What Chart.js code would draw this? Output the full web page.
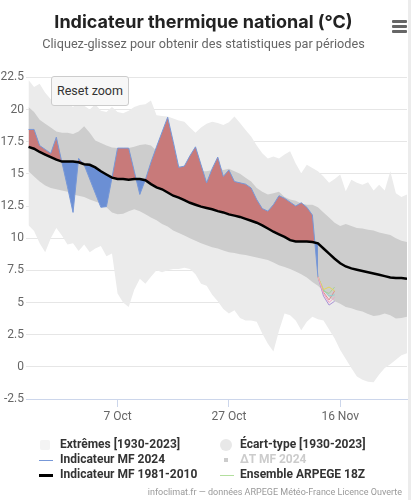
<!DOCTYPE html>
<html>
<head>
<meta charset="utf-8">
<script src="https://cdn.jsdelivr.net/npm/chart.js@4"></script>
<style>
  html, body { margin: 0; padding: 0; background: #fff; }
  #wrap { position: relative; width: 411px; height: 500px; overflow: hidden; font-family: Roboto, sans-serif; }
  #wrap canvas { position: absolute; left: 0; top: 0; }
  .edge { position: absolute; left: 408px; top: 0; width: 3px; height: 500px; background: #ececec; }
  .menu { position: absolute; left: 392px; top: 20px; width: 15px; }
  .menu span { display: block; height: 3px; background: #666; margin-bottom: 2px; border-radius: 1px; }
  .reset { position: absolute; left: 51px; top: 76px; width: 78px; height: 30px; box-sizing: border-box;
    background: #f7f7f7; border: 1px solid #ccc; border-radius: 3px; font: 12.5px Roboto; color: #333;
    line-height: 28px; text-align: center; }
  .item { position: absolute; height: 15px; line-height: 15px; white-space: nowrap; font: bold 12px Roboto; color: #333; }
  .sym { position: absolute; }
  .credits { position: absolute; right: 9px; top: 487px; font: 9px Roboto; color: #999; white-space: nowrap; }
</style>
</head>
<body>
<div id="wrap">
  <canvas id="c" width="411" height="500"></canvas>
  <div class="edge"></div>
  <div class="menu"><span></span><span></span><span></span></div>
  <div class="reset">Reset zoom</div>

  <div class="sym" style="left:40px;top:440px;width:10px;height:10px;background:#f4f4f4;border-radius:2px"></div>
  <div class="item" style="left:60px;top:437px">Extrêmes [1930-2023]</div>
  <div class="sym" style="left:39px;top:460px;width:14px;height:1px;background:#7798d8"></div>
  <div class="item" style="left:60px;top:452px">Indicateur MF 2024</div>
  <div class="sym" style="left:39px;top:474px;width:14px;height:3px;background:#000"></div>
  <div class="item" style="left:60px;top:467px">Indicateur MF 1981-2010</div>

  <div class="sym" style="left:220px;top:439px;width:12px;height:12px;background:#e8e8e8;border-radius:50%"></div>
  <div class="item" style="left:240px;top:437px">Écart-type [1930-2023]</div>
  <div class="sym" style="left:224px;top:458px;width:4px;height:4px;background:#ccc"></div>
  <div class="item" style="left:240px;top:452px;color:#ccc">ΔT MF 2024</div>
  <div class="sym" style="left:220px;top:475px;width:14px;height:1px;background:#b3df9e"></div>
  <div class="item" style="left:240px;top:467px">Ensemble ARPEGE 18Z</div>

  <div class="credits">infoclimat.fr — données ARPEGE Météo-France Licence Ouverte</div>
</div>
<script>
// one value per day, 21 Sep -> 28 Nov 2024
const extMax = [22.3, 21.75, 22.0, 21.3, 20.8, 20.6, 20.9, 20.5, 20.2, 20.6,
  20.3, 20.0, 20.4, 19.9, 19.8, 20.2, 19.8, 19.7, 19.9, 20.2,
  20.35, 20.4, 20.7, 19.55, 19.5, 19.45, 19.3, 19.15, 19.05, 18.6,
  18.2, 18.6, 18.9, 19.05, 18.95, 18.8, 19.0, 19.45, 18.95, 18.4,
  17.9, 17.2, 16.6, 16.2, 16.35, 16.2, 16.5, 16.75, 15.8, 15.05,
  15.7, 15.45, 15.2, 14.8, 14.3, 14.6, 14.95, 13.65, 14.55, 14.3,
  14.15, 14.35, 13.7, 14.15, 13.7, 15.2, 13.5, 13.2, 13.4];
const extMin = [11.0, 10.55, 9.6, 8.9, 10.0, 10.8, 10.2, 9.5, 9.6, 9.0,
  9.5, 8.9, 9.2, 9.4, 8.6, 8.8, 5.7, 5.0, 4.65, 6.0,
  6.85, 6.45, 7.0, 7.5, 7.35, 7.5, 7.6, 7.6, 7.7, 7.6,
  7.2, 6.45, 6.3, 5.6, 5.1, 4.5, 4.15, 4.4, 3.8, 3.6,
  3.6, 3.5, 2.6, 1.8, 1.2, 2.8, 4.15, 4.0, 3.6, 2.85,
  3.5, 3.9, 3.7, 3.6, 2.9, 2.2, 1.3, 0.6, -0.1, -0.75,
  -1.0, -1.15, -1.2, -0.6, -0.1, 0.2, 0.55, 0.9, 1.05];
const stdMax = [20.2, 19.8, 19.2, 18.9, 18.6, 18.3, 18.2, 18.2, 18.1, 18.3,
  18.7, 18.2, 17.6, 17.4, 17.2, 17.05, 17.0, 17.0, 17.0, 17.1,
  17.25, 17.3, 17.2, 16.8, 16.4, 16.2, 15.9, 15.6, 15.5, 15.4,
  15.3, 15.2, 15.2, 15.3, 15.4, 15.3, 15.4, 15.2, 15.0, 14.7,
  14.4, 13.9, 13.6, 13.4, 13.5, 13.6, 13.2, 13.0, 12.9, 12.7,
  12.6, 12.6, 12.4, 12.0, 11.6, 11.2, 10.95, 11.1, 10.95, 10.8,
  10.75, 10.65, 10.6, 10.45, 10.35, 10.25, 10.0, 9.8, 9.7];
const stdMin = [15.2, 14.8, 14.4, 14.1, 13.9, 13.8, 13.7, 13.6, 13.4, 13.3,
  13.2, 13.0, 12.85, 12.7, 12.4, 12.0, 11.85, 11.9, 12.1, 12.25,
  12.1, 11.85, 11.6, 11.4, 11.1, 10.9, 10.6, 10.4, 10.2, 10.0,
  9.8, 9.6, 9.45, 9.3, 9.2, 9.05, 8.9, 8.85, 8.75, 8.7,
  8.6, 8.5, 8.4, 8.3, 8.1, 7.9, 7.75, 7.6, 7.4, 7.2,
  6.95, 6.6, 6.3, 5.9, 5.4, 5.1, 4.9, 4.65, 4.55, 4.4,
  4.3, 4.1, 3.95, 4.0, 4.15, 4.0, 3.75, 3.8, 3.9];
const normal = [17.1, 16.95, 16.7, 16.5, 16.3, 16.1, 15.95, 15.95, 15.95, 15.9,
  15.75, 15.7, 15.5, 15.2, 14.95, 14.7, 14.6, 14.6, 14.55, 14.6,
  14.6, 14.5, 14.2, 13.95, 13.8, 13.55, 13.3, 13.15, 12.95, 12.75,
  12.6, 12.45, 12.35, 12.25, 12.1, 12.0, 11.85, 11.75, 11.65, 11.5,
  11.35, 11.2, 11.0, 10.75, 10.5, 10.3, 10.1, 9.85, 9.75, 9.75,
  9.75, 9.7, 9.6, 9.2, 8.8, 8.4, 8.05, 7.8, 7.65, 7.55,
  7.45, 7.35, 7.25, 7.15, 7.05, 6.95, 6.9, 6.9, 6.85];
const mf2024 = [18.45, 18.45, 17.2, 16.9, 16.6, 17.85, 15.9, 14.0, 12.0, 16.2,
  15.7, 14.6, 13.5, 12.4, 12.45, 14.7, 17.0, 17.0, 17.0, 15.2,
  13.4, 14.55, 15.9, 17.1, 18.25, 19.4, 17.5, 15.5, 15.6, 16.4,
  17.1, 15.7, 14.3, 15.4, 16.3, 14.8, 15.3, 14.4, 14.3, 14.2,
  13.9, 13.0, 12.3, 12.1, 12.6, 13.3, 13.1, 12.8, 12.5, 12.75,
  12.4, 11.8, 7.0];
// ARPEGE members, from 13 Nov (day 52)
const ensStart = 52;
const ensemble = [
  [7.0, 5.7, 5.0, 5.4],
  [7.0, 6.0, 6.2, 5.9],
  [7.0, 5.9, 5.7, 6.2],
  [7.0, 5.5, 4.8, 5.1],
  [7.0, 6.0, 5.5, 5.6],
  [7.0, 5.8, 5.2, 5.9]
];
const ensColors = ['#f5a3c6', '#e3d65a', '#a6d494', '#a993d6', '#8fd0d0', '#e08c8c'];
const tickDays = [16, 36, 56];
const tickLabels = ['7 Oct', '27 Oct', '16 Nov'];

const pts = (arr, start = 0) => arr.map((v, i) => ({ x: start + i, y: v }));

const datasets = [
  { data: pts(mf2024), borderColor: '#7798d8', borderWidth: 1, order: 2,
    fill: { target: 1, above: '#c87a7a', below: '#6b8fd4' } },
  { data: pts(normal), borderColor: '#000', borderWidth: 2.5, order: 1, fill: false },
  { data: pts(stdMax), borderWidth: 0, backgroundColor: '#cdcdcd', fill: '+1', order: 4 },
  { data: pts(stdMin), borderWidth: 0, fill: false, order: 4 },
  { data: pts(extMax), borderWidth: 0, backgroundColor: '#ebebeb', fill: '+1', order: 5 },
  { data: pts(extMin), borderWidth: 0, fill: false, order: 5 }
];
ensemble.forEach((m, k) => {
  datasets.push({ data: pts(m, ensStart), borderColor: ensColors[k], borderWidth: 1, fill: false, order: 3 });
});

Chart.defaults.font.family = 'Roboto';

new Chart(document.getElementById('c'), {
  type: 'line',
  data: { datasets },
  options: {
    responsive: false,
    animation: false,
    layout: { padding: { left: 0, right: 4, top: 0, bottom: 71 } },
    elements: { point: { radius: 0 }, line: { tension: 0 } },
    plugins: {
      legend: { display: false },
      tooltip: { enabled: false },
      title: {
        display: true,
        text: 'Indicateur thermique national (°C)',
        font: { family: 'Inter', size: 18, weight: 'bold' },
        color: '#222',
        padding: { top: 12, bottom: 0 }
      },
      subtitle: {
        display: true,
        text: 'Cliquez-glissez pour obtenir des statistiques par périodes',
        font: { family: 'Roboto', size: 12.7 },
        color: '#666',
        padding: { top: 4, bottom: 24.5 }
      }
    },
    scales: {
      x: {
        type: 'linear',
        min: -0.45,
        max: 68,
        afterBuildTicks: s => { s.ticks = tickDays.map(v => ({ value: v })); },
        afterFit: s => { s.height = 30; },
        ticks: {
          callback: v => tickLabels[tickDays.indexOf(v)],
          color: '#666', font: { size: 12 }, padding: 3, maxRotation: 0, autoSkip: false
        },
        grid: { drawOnChartArea: false, tickLength: 8, color: '#ccd6eb' },
        border: { color: '#ccd6eb' }
      },
      y: {
        min: -2.5,
        max: 22.5,
        afterFit: s => { s.width = 26; },
        ticks: { stepSize: 2.5, color: '#666', font: { size: 12 }, padding: 2 },
        grid: { color: '#e6e6e6', drawTicks: false },
        border: { display: false }
      }
    }
  }
});
</script>
</body>
</html>
